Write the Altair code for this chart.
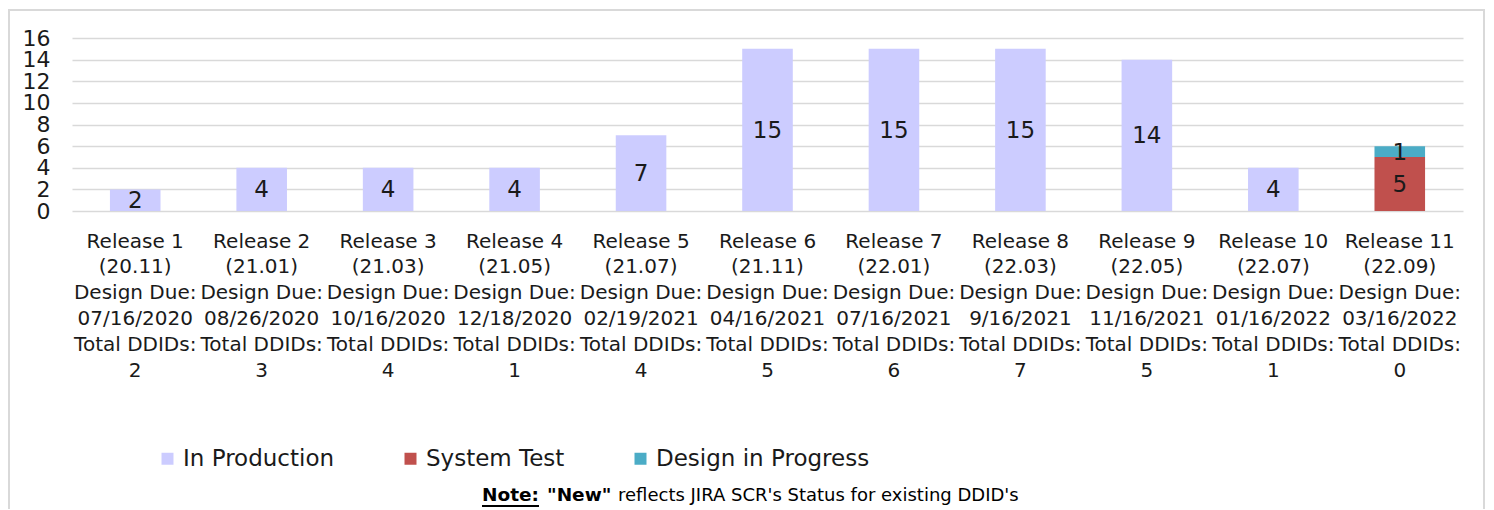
import altair as alt
import pandas as pd

releases = ["Release 1", "Release 2", "Release 3", "Release 4", "Release 5", "Release 6",
            "Release 7", "Release 8", "Release 9", "Release 10", "Release 11"]
versions = ["20.11", "21.01", "21.03", "21.05", "21.07", "21.11",
            "22.01", "22.03", "22.05", "22.07", "22.09"]
design_due = ["07/16/2020", "08/26/2020", "10/16/2020", "12/18/2020", "02/19/2021", "04/16/2021",
              "07/16/2021", "9/16/2021", "11/16/2021", "01/16/2022", "03/16/2022"]
total_ddids = [2, 3, 4, 1, 4, 5, 6, 7, 5, 1, 0]

in_production = [2, 4, 4, 4, 7, 15, 15, 15, 14, 4, 0]
system_test = [0, 0, 0, 0, 0, 0, 0, 0, 0, 0, 5]
design_in_progress = [0, 0, 0, 0, 0, 0, 0, 0, 0, 0, 1]

series_names = ["In Production", "System Test", "Design in Progress"]
series_colors = ["#CCCCFF", "#C0504D", "#4BACC6"]
y_ticks = [0, 2, 4, 6, 8, 10, 12, 14, 16]

labels = [f"{r}|({v})|Design Due:|{d}|Total DDIDs:|{n}"
          for r, v, d, n in zip(releases, versions, design_due, total_ddids)]

rows = []
for si, (name, vals) in enumerate(zip(series_names, [in_production, system_test, design_in_progress])):
    for lab, v in zip(labels, vals):
        rows.append({"label": lab, "series": name, "order": si, "value": v})
df = pd.DataFrame(rows)

FONT = "DejaVu Sans"

base = alt.Chart(df).transform_stack(
    stack="value", groupby=["label"], as_=["y0", "y1"], sort=[alt.SortField("order")]
).transform_calculate(mid="(datum.y0 + datum.y1) / 2")

x_axis = alt.Axis(labelExpr="split(datum.label, '|')", labelAngle=0, labelFont=FONT,
                  labelFontSize=20, labelLineHeight=25.8, labelColor="#1a1a1a",
                  labelPadding=20, labelLimit=0, labelOverlap=False, ticks=False,
                  domain=False, grid=False)
x_scale = alt.Scale(paddingInner=0.6, paddingOuter=0.3)
y_axis = alt.Axis(values=y_ticks, labelFont=FONT, labelFontSize=22, labelColor="#1a1a1a",
                  labelPadding=22, labelOverlap=False, ticks=False, domain=False, grid=True,
                  gridColor="#d9d9d9", gridWidth=1.5)
y_scale = alt.Scale(domain=[0, 16], nice=False)

bars = base.mark_bar().encode(
    x=alt.X("label:N", sort=labels, title=None, scale=x_scale, axis=x_axis),
    y=alt.Y("y1:Q", title=None, scale=y_scale, axis=y_axis),
    y2="y0:Q",
    color=alt.Color("series:N", scale=alt.Scale(domain=series_names, range=series_colors),
                    legend=alt.Legend(title=None, orient="none", legendX=84, legendY=409,
                                      direction="horizontal", symbolType="square",
                                      symbolSize=144, symbolStrokeWidth=0, labelFont=FONT,
                                      labelFontSize=23, labelColor="#1a1a1a", labelOffset=4,
                                      labelLimit=0, columnPadding=64, padding=0)),
)

texts = base.transform_filter("datum.value > 0").mark_text(
    font=FONT, fontSize=23, color="#1a1a1a", baseline="middle", dy=1
).encode(
    x=alt.X("label:N", sort=labels, title=None, scale=x_scale, axis=x_axis),
    y=alt.Y("mid:Q", title=None, scale=y_scale, axis=y_axis),
    text=alt.Text("value:Q"),
)

one = pd.DataFrame({"a": [0]})
frame = alt.Chart(one).mark_rect(fillOpacity=0, stroke="#d9d9d9", strokeWidth=2).encode(
    x=alt.value(-63), x2=alt.value(1412), y=alt.value(-28), y2=alt.value(480)
)
note1 = alt.Chart(one).mark_text(font=FONT, fontSize=18.5, fontWeight="bold",
                                 align="left", baseline="alphabetic", color="#000000").encode(
    x=alt.value(410), y=alt.value(463), text=alt.value("Note:"))
note2 = alt.Chart(one).mark_text(font=FONT, fontSize=18.5, fontWeight="bold",
                                 align="left", baseline="alphabetic", color="#000000").encode(
    x=alt.value(475), y=alt.value(463), text=alt.value('"New"'))
note3 = alt.Chart(one).mark_text(font=FONT, fontSize=18,
                                 align="left", baseline="alphabetic", color="#000000").encode(
    x=alt.value(546), y=alt.value(463),
    text=alt.value("reflects JIRA SCR's Status for existing DDID's"))
underline = alt.Chart(one).mark_rule(color="#000000", strokeWidth=2).encode(
    x=alt.value(410), x2=alt.value(467), y=alt.value(468))

chart = alt.layer(frame, bars, texts, note1, note2, note3, underline).properties(
    width=1391, height=173,
    background="white",
    autosize=alt.AutoSizeParams(type="none"),
    padding={"left": 64, "top": 30, "right": 23, "bottom": 298},
).configure_view(stroke=None).configure_axisY(labelOverlap=False)

chart.save("out.html", embed_options={"renderer": "svg", "actions": False})
